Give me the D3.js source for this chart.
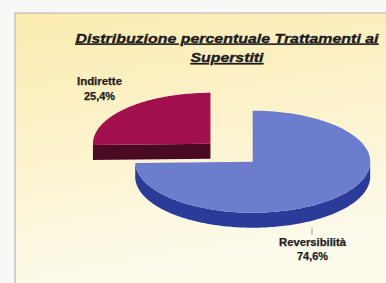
<!DOCTYPE html>
<html><head><meta charset="utf-8">
<script src="https://cdn.jsdelivr.net/npm/d3@7"></script>
<style>html,body{margin:0;padding:0;background:#f7f7f5;}svg{display:block;}</style>
</head><body>
<svg id="chart" width="386" height="283"></svg>
<script>
const categories = ["Reversibilità", "Indirette"];
const values = [74.6, 25.4];
const valueLabels = ["74,6%", "25,4%"];
const titleLines = ["Distribuzione percentuale Trattamenti ai", "Superstiti"];

const svg = d3.select("#chart");
const defs = svg.append("defs");
const grad = defs.append("linearGradient").attr("id","bg").attr("x1",0).attr("y1",0).attr("x2",0.25).attr("y2",1);
grad.append("stop").attr("offset",0).attr("stop-color","#fcecb0");
grad.append("stop").attr("offset",0.55).attr("stop-color","#fcf3cf");
grad.append("stop").attr("offset",1).attr("stop-color","#fcfbec");

// outer area
svg.append("rect").attr("width",386).attr("height",283).attr("fill","#f8f8f6");
// panel
svg.append("rect").attr("x",15).attr("y",13).attr("width",371).attr("height",270).attr("fill","url(#bg)");
svg.append("path").attr("d","M15,283 L15,13 L386,13").attr("fill","none").attr("stroke","#b8b6ae").attr("stroke-width",1.2);

// title
titleLines.forEach((t,i)=>{
  svg.append("text")
    .attr("x",227).attr("y",[42.5,62][i])
    .attr("text-anchor","middle")
    .attr("textLength",[303,73][i]).attr("lengthAdjust","spacingAndGlyphs")
    .style("font-family","'Liberation Sans', Arial, sans-serif")
    .style("font-weight","bold").style("font-style","italic")
    .style("font-size","13.5px").style("text-decoration","underline")
    .attr("fill","#1c1c1c").attr("stroke","#1c1c1c").attr("stroke-width",0.35).text(t);
});

// 3D pie
const cx = 252.7, cy = 161.7, rx = 117.5, ry = 51, depth = 15;
const explode = [0, 59];
const topColors = ["#6c7dce", "#a3104e"];
const sideColors = ["#2b3b9a", "#4a0a24"];
const pie = d3.pie().sort(null).value(d=>d);
const arcs = pie(values);

function pt(a, ox, oy, dz){ return [ox + rx*Math.sin(a), oy - ry*Math.cos(a) + (dz||0)]; }
function arcPts(a0, a1, ox, oy, dz){
  const n = Math.max(2, Math.ceil(Math.abs(a1-a0)/0.02));
  return d3.range(n+1).map(i=>pt(a0+(a1-a0)*i/n, ox, oy, dz));
}
const line = d3.line();

// draw order: exploded back slice first
const order = [1, 0];
order.forEach(i=>{
  const d = arcs[i];
  const mid = (d.startAngle + d.endAngle)/2;
  const ox = cx + explode[i]*Math.sin(mid);
  const oy = cy - explode[i]*Math.cos(mid)*ry/rx;
  const g = svg.append("g");
  // radial cut faces
  [[d.startAngle, d.startAngle - Math.PI/2],[d.endAngle, d.endAngle + Math.PI/2]].forEach(([a,b])=>{
    if (Math.cos(b) < -1e-6){
      const p = pt(a, ox, oy);
      g.append("path").attr("d", line([[ox,oy],p,[p[0],p[1]+depth],[ox,oy+depth]])+"Z")
        .attr("fill", sideColors[i]);
    }
  });
  // outer wall (front-facing part)
  const w0 = Math.max(d.startAngle, Math.PI/2), w1 = Math.min(d.endAngle, 3*Math.PI/2);
  if (w1 > w0){
    const topE = arcPts(w0, w1, ox, oy, 0);
    const botE = arcPts(w1, w0, ox, oy, depth);
    g.append("path").attr("d", line(topE.concat(botE))+"Z").attr("fill", sideColors[i]);
  }
  // top face
  const tp = [[ox,oy]].concat(arcPts(d.startAngle, d.endAngle, ox, oy, 0));
  g.append("path").attr("d", line(tp)+"Z").attr("fill", topColors[i]);
});

// labels
const lab = svg.append("g")
  .style("font-family","'Liberation Sans', Arial, sans-serif")
  .style("font-weight","bold").style("font-size","10px")
  .attr("fill","#1e1e1e").attr("stroke","#1e1e1e").attr("stroke-width",0.25);
const labPos = [{x:312.5, y1:245.5, y2:259.5, w1:67, w2:31}, {x:99.5, y1:84.5, y2:100, w1:45, w2:31}];
categories.forEach((c,i)=>{
  const p = labPos[i];
  lab.append("text").attr("x",p.x).attr("y",p.y1).attr("text-anchor","middle")
    .attr("textLength",p.w1).attr("lengthAdjust","spacingAndGlyphs").text(c);
  lab.append("text").attr("x",p.x).attr("y",p.y2).attr("text-anchor","middle")
    .attr("textLength",p.w2).attr("lengthAdjust","spacingAndGlyphs").text(valueLabels[i]);
});
// leader line for Reversibilità
svg.append("line").attr("x1",312).attr("x2",312).attr("y1",228).attr("y2",235)
  .attr("stroke","#9a9a9a").attr("stroke-width",1);
</script>
</body></html>
